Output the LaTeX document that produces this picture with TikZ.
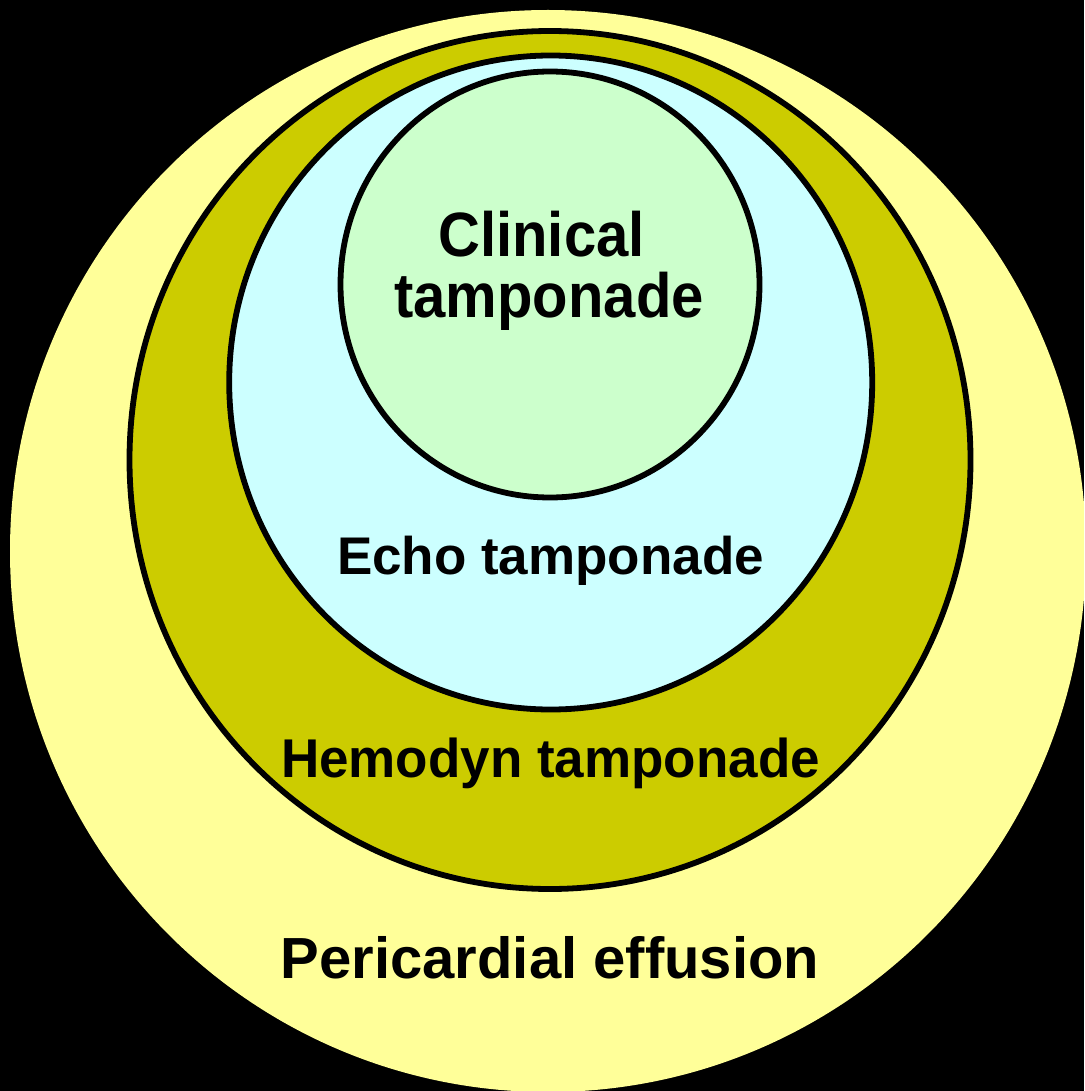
\documentclass[tikz,border=0pt]{standalone}
\usepackage{fontspec}
\setmainfont{Liberation Sans}
\usepackage{graphicx}
\definecolor{paleyellow}{HTML}{FFFF99}
\definecolor{olive}{HTML}{CCCC00}
\definecolor{palecyan}{HTML}{CCFFFF}
\definecolor{palegreen}{HTML}{CCFFCC}
\tikzset{
  ring/.style={draw=black, line width=5.8pt},
  lbl/.style={anchor=base, inner sep=0pt, text=black, font=\bfseries},
}
\begin{document}
\begin{tikzpicture}[x=1pt, y=-1pt]
\useasboundingbox (0,0) rectangle (1084,1091);
\clip (0,0) rectangle (1084,1091);
\fill[black] (0,0) rectangle (1084,1091);
% outer: pericardial effusion
\fill[paleyellow] (548,551) ellipse [x radius=538, y radius=541];
% hemodynamic tamponade
\draw[ring, fill=olive] (550,460) ellipse [x radius=420.5, y radius=429];
% echo tamponade
\draw[ring, fill=palecyan] (550.7,382.5) ellipse [x radius=321.5, y radius=327];
% clinical tamponade
\draw[ring, fill=palegreen] (550,284.5) ellipse [x radius=209.5, y radius=213];
% labels
\node[lbl] (clin1) at (541.5,256) {\fontsize{58}{60}\selectfont\scalebox{1}[1.08]{Clinical}};
\node[lbl] (clin2) at (549,317) {\fontsize{58}{60}\selectfont\scalebox{1}[1.08]{tamponade}};
\node[lbl] (echo) at (550.5,574) {\fontsize{53}{55}\selectfont Echo tamponade};
\node[lbl] (hemo) at (550.5,777) {\fontsize{53}{55}\selectfont\scalebox{1}[1.03]{Hemodyn tamponade}};
\node[lbl] (peri) at (550,978) {\fontsize{58}{60}\selectfont Pericardial effusion};
\end{tikzpicture}
\end{document}
